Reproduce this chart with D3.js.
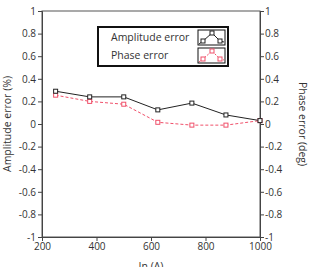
<!DOCTYPE html>
<html lang="en">
<head>
<meta charset="utf-8">
<title>Error vs current</title>
<script src="https://d3js.org/d3.v7.min.js"></script>
<style>
  body { margin: 0; background: #fff; }
  text { font-family: "Open Sans", "Noto Sans", sans-serif; fill: #333; }
</style>
</head>
<body>
<div id="chart"></div>
<script>
  // data
  var current = [250, 375, 500, 625, 750, 875, 1000];
  var amplitudeErr = [0.29, 0.24, 0.24, 0.125, 0.185, 0.08, 0.03];
  var phaseErr = [0.255, 0.20, 0.175, 0.015, -0.01, -0.01, 0.03];
  var xTicks = [200, 400, 600, 800, 1000];
  var yTicks = [1, 0.8, 0.6, 0.4, 0.2, 0, -0.2, -0.4, -0.6, -0.8, -1];

  var w = 310, h = 267;
  // plot edges (note: "top" is taken by window.top)
  var pLeft = 42, pRight = 260, pTop = 11, pBottom = 237;

  var svg = d3.select("#chart").append("svg")
    .attr("width", w)
    .attr("height", h);

  var x = d3.scaleLinear().domain([200, 1000]).range([pLeft, pRight]);
  var yL = d3.scaleLinear().domain([-1, 1]).range([pBottom, pTop]);
  var yR = d3.scaleLinear().domain([-1, 1]).range([pBottom, pTop]);

  var fmt = function(d) { return String(+d.toFixed(1)); };

  // frame
  svg.append("rect")
    .attr("x", pLeft).attr("y", pTop)
    .attr("width", pRight - pLeft).attr("height", pBottom - pTop)
    .attr("fill", "none").attr("stroke", "#555").attr("stroke-width", 1);

  function styleAxis(g) {
    g.select(".domain").attr("stroke", "#444");
    g.selectAll(".tick line").attr("stroke", "#444");
    g.selectAll(".tick text").attr("font-size", 10).attr("fill", "#333")
      .attr("font-family", "'Open Sans', 'Noto Sans', sans-serif");
  }

  svg.append("g")
    .attr("transform", "translate(0," + pBottom + ")")
    .call(d3.axisBottom(x).tickValues(xTicks).tickSize(4).tickPadding(2).tickFormat(d3.format("d")))
    .call(styleAxis);

  svg.append("g")
    .attr("transform", "translate(" + pLeft + ",0)")
    .call(d3.axisLeft(yL).tickValues(yTicks).tickSize(4).tickPadding(2).tickFormat(fmt))
    .call(styleAxis);

  svg.append("g")
    .attr("transform", "translate(" + pRight + ",0)")
    .call(d3.axisRight(yR).tickValues(yTicks).tickSize(4).tickPadding(1).tickFormat(fmt))
    .call(styleAxis);

  // axis titles
  svg.append("text")
    .attr("transform", "translate(10.5," + ((pTop + pBottom) / 2) + ") rotate(-90)")
    .attr("text-anchor", "middle")
    .attr("font-size", 10.5)
    .text("Amplitude error (%)");

  svg.append("text")
    .attr("transform", "translate(299," + ((pTop + pBottom) / 2) + ") rotate(90)")
    .attr("text-anchor", "middle")
    .attr("font-size", 10.5)
    .text("Phase error (deg)");

  svg.append("text")
    .attr("x", (pLeft + pRight) / 2)
    .attr("y", 270)
    .attr("text-anchor", "middle")
    .attr("font-size", 10.5)
    .text("In (A)");

  // series
  var ampData = current.map(function(c, i) { return [c, amplitudeErr[i]]; });
  var phData = current.map(function(c, i) { return [c, phaseErr[i]]; });

  var lineL = d3.line().x(d => x(d[0])).y(d => yL(d[1]));
  var lineR = d3.line().x(d => x(d[0])).y(d => yR(d[1]));

  var phColor = "#f0506a";
  var ampColor = "#222";

  svg.append("path").datum(phData)
    .attr("d", lineR).attr("fill", "none")
    .attr("stroke", phColor).attr("stroke-width", 1)
    .attr("stroke-dasharray", "3,2");

  svg.append("path").datum(ampData)
    .attr("d", lineL).attr("fill", "none")
    .attr("stroke", ampColor).attr("stroke-width", 1);

  svg.selectAll(".ph").data(phData).enter().append("rect")
    .attr("class", "ph")
    .attr("x", d => x(d[0]) - 2).attr("y", d => yR(d[1]) - 2)
    .attr("width", 4).attr("height", 4)
    .attr("fill", "#fff").attr("stroke", phColor).attr("stroke-width", 1);

  svg.selectAll(".amp").data(ampData).enter().append("rect")
    .attr("class", "amp")
    .attr("x", d => x(d[0]) - 2).attr("y", d => yL(d[1]) - 2)
    .attr("width", 4).attr("height", 4)
    .attr("fill", "#fff").attr("stroke", ampColor).attr("stroke-width", 1);

  // legend
  var lg = svg.append("g");
  lg.append("rect")
    .attr("x", 98).attr("y", 27).attr("width", 130).attr("height", 39)
    .attr("fill", "#fff").attr("stroke", "#111").attr("stroke-width", 2);

  var legendItems = [
    { label: "Amplitude error", color: ampColor, dash: null },
    { label: "Phase error", color: phColor, dash: "2,1.5" }
  ];

  legendItems.forEach(function(item, i) {
    var y0 = 30 + i * 18;
    lg.append("text")
      .attr("x", 111).attr("y", y0 + 11)
      .attr("font-size", 10.5)
      .attr("fill", "#222")
      .text(item.label);
    lg.append("rect")
      .attr("x", 198).attr("y", y0).attr("width", 27).attr("height", 15)
      .attr("fill", "#fff").attr("stroke", "#111").attr("stroke-width", 1);
    var pts = [[199, y0 + 14], [203, y0 + 11], [212, y0 + 3], [220, y0 + 11], [224, y0 + 12]];
    lg.append("path")
      .attr("d", d3.line()(pts))
      .attr("fill", "none").attr("stroke", item.color).attr("stroke-width", 1)
      .attr("stroke-dasharray", item.dash);
    lg.selectAll(null).data(pts.slice(1, 4)).enter().append("rect")
      .attr("x", d => d[0] - 2).attr("y", d => d[1] - 2)
      .attr("width", 4).attr("height", 4)
      .attr("fill", "#fff").attr("stroke", item.color).attr("stroke-width", 1);
  });
</script>
</body>
</html>
